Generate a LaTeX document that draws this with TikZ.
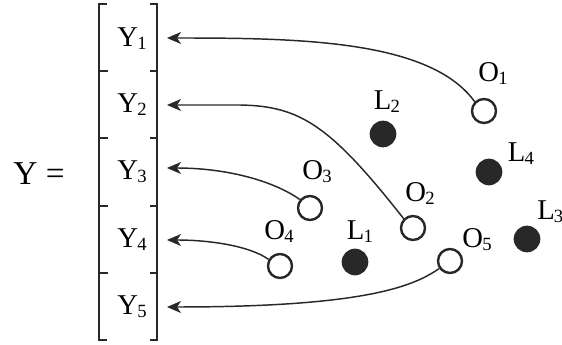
\documentclass[tikz,border=0pt]{standalone}
\usepackage{fontspec}
\setmainfont{Liberation Serif}
\usetikzlibrary{arrows.meta}
\definecolor{ink}{RGB}{40,40,40}
\newcommand{\lsub}[1]{\kern-0.6pt\raisebox{-2pt}{\fontsize{14}{16}\selectfont #1}}

\begin{document}
\begin{tikzpicture}[x=0.75pt,y=0.75pt,yscale=-1,xscale=1,
  lbl/.style={font=\fontsize{21.5}{24}\selectfont, inner sep=0pt, anchor=base},
  obs/.style={circle, draw=ink, fill=white, line width=1.8pt, minimum size=18pt, inner sep=0pt},
  lmk/.style={circle, fill=ink, minimum size=20pt, inner sep=0pt},
  link/.style={draw=ink, line width=1.1pt, -{Stealth[length=10.5pt,width=9pt,inset=3pt]}},
  brk/.style={draw=ink, line width=1.3pt}]
\useasboundingbox (0,0) rectangle (562,345);

%Bracket
\draw [brk] (107,4) -- (99,4) -- (99,340) -- (107,340) ;
\draw [brk] (150,4) -- (157,4) -- (157,340) -- (150,340) ;
\foreach \yy in {71,138,206,273}
  {\draw [brk] (99,\yy) -- (108,\yy) (150,\yy) -- (157,\yy) ;}

% Text Node
\node [lbl, font=\fontsize{25}{28}\selectfont] (ylhs) at (39,185) {Y =};
\foreach \i/\yy/\ya in {1/47/38,2/113/105,3/180/168,4/248/240,5/315/307}
  {\node [lbl] (y\i) at (132,\yy) {Y\lsub{\i}};
   \coordinate (t\i) at (167,\ya) ;}

%Observations
\node [obs] (o1) at (484,111) {};
\node [obs] (o2) at (413,228) {};
\node [obs] (o3) at (310,208) {};
\node [obs] (o4) at (280,266) {};
\node [obs] (o5) at (450,261) {};
%Landmarks
\node [lmk] (l1) at (355,262) {};
\node [lmk] (l2) at (383,134) {};
\node [lmk] (l3) at (527,239) {};
\node [lmk] (l4) at (489,172) {};

% Text Node
\node [lbl] (o1lbl) at (493,82) {O\lsub{1}};
\node [lbl] (o2lbl) at (420,202) {O\lsub{2}};
\node [lbl] (o3lbl) at (317,180) {O\lsub{3}};
\node [lbl] (o4lbl) at (279,240) {O\lsub{4}};
\node [lbl] (o5lbl) at (477,248) {O\lsub{5}};
\node [lbl] (l1lbl) at (360,240) {L\lsub{1}};
\node [lbl] (l2lbl) at (387,110) {L\lsub{2}};
\node [lbl, anchor=base west] (l3lbl) at (537,220) {L\lsub{3}};
\node [lbl] (l4lbl) at (521,162) {L\lsub{4}};

%Links
\draw [link] (o1.135) .. controls (430,40) and (300,38) .. (t1) ;
\draw [link] (o2.135) .. controls (330,125) and (300,106) .. (240,105) -- (t2) ;
\draw [link] (o3.140) .. controls (272,180) and (225,168) .. (t3) ;
\draw [link] (o4.150) .. controls (250,246) and (210,240) .. (t4) ;
\draw [link] (o5.215) .. controls (415,285) and (370,307) .. (t5) ;

\end{tikzpicture}
\end{document}
